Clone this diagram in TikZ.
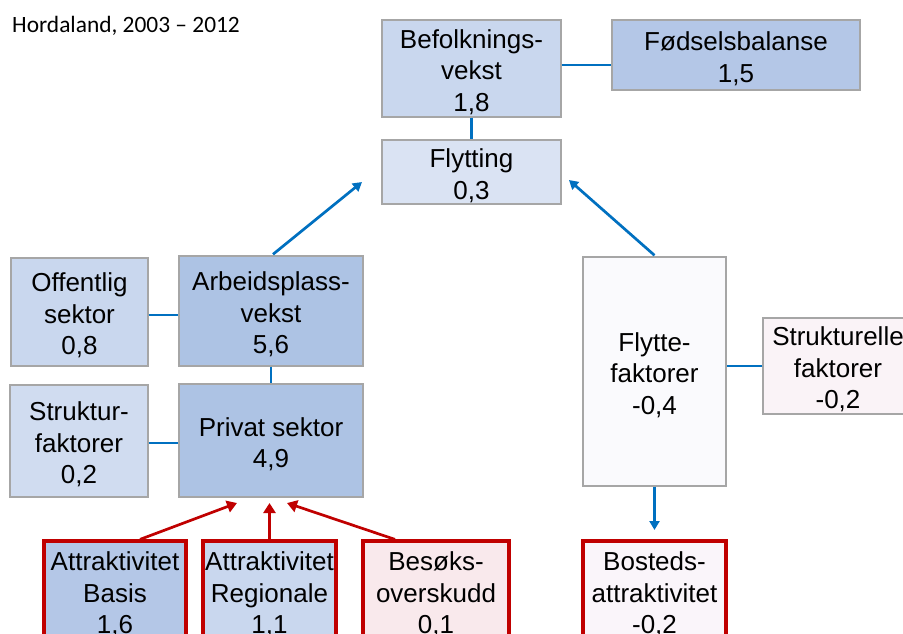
\documentclass[tikz,border=0pt]{standalone}
\usepackage{fontspec}
\setmainfont{Liberation Sans}
\newfontfamily\titlefont{Carlito}
\usetikzlibrary{arrows.meta}
\definecolor{lnblue}{HTML}{0070C0}
\definecolor{lnred}{HTML}{C00000}
\definecolor{bordergray}{HTML}{A6A6A6}
\definecolor{fillA}{HTML}{C9D7EE}
\definecolor{fillB}{HTML}{B4C7E7}
\definecolor{fillC}{HTML}{DAE3F3}
\definecolor{fillD}{HTML}{ADC3E4}
\definecolor{fillE}{HTML}{D0DCF0}
\definecolor{fillF}{HTML}{FAFAFD}
\definecolor{fillG}{HTML}{FAF3F7}
\definecolor{fillH}{HTML}{F9E9EC}
\definecolor{fillI}{HTML}{FAF5FA}
\newcommand\myLift{\rule{0pt}{26pt}}
\tikzset{
  box/.style={draw=bordergray, line width=1.4pt, inner sep=0pt, align=center,
    font=\fontsize{26}{31.5}\selectfont},
  redbox/.style={box, draw=lnred, line width=3.2pt},
  bluelink/.style={draw=lnblue, line width=2.7pt},
  bluearrow/.style={bluelink, -{Triangle[length=9pt,width=10pt]}},
  redarrow/.style={draw=lnred, line width=2.7pt, -{Triangle[length=10pt,width=12pt]}},
}
\begin{document}
\begin{tikzpicture}[x=1pt,y=-1pt]
\useasboundingbox (0,0) rectangle (903,633);
\clip (0,0) rectangle (903,633);
\fill[white] (0,0) rectangle (903,633);

\node[anchor=base west, font=\titlefont\fontsize{23.4}{28}\selectfont, inner sep=0pt] (title) at (12,32) {Hordaland, 2003 – 2012};

\node[box, fill=fillA, minimum width=179, minimum height=97] (bef) at (471.5,68.5) {\myLift Befolknings-\\vekst\\1,8};
\node[box, fill=fillB, minimum width=248, minimum height=70] (fod) at (736,55) {\myLift Fødselsbalanse\\1,5};
\node[box, fill=fillC, minimum width=179, minimum height=64] (fly) at (471.5,172) {\myLift Flytting\\0,3};
\node[box, fill=fillA, minimum width=137, minimum height=108] (off) at (79.5,312) {\myLift Offentlig\\sektor\\0,8};
\node[box, fill=fillD, minimum width=184, minimum height=110] (arb) at (271,311) {\myLift Arbeidsplass-\\vekst\\5,6};
\node[box, fill=fillE, minimum width=138, minimum height=112] (str) at (79,441) {\myLift Struktur-\\faktorer\\0,2};
\node[box, fill=fillD, minimum width=184, minimum height=113] (pri) at (271,440.5) {\myLift Privat sektor\\4,9};
\node[box, fill=fillF, minimum width=143, minimum height=229] (flf) at (654.5,371.5) {\myLift Flytte-\\faktorer\\-0,4};
\node[box, fill=fillG, minimum width=150, minimum height=96] (sel) at (838,366) {\myLift Strukturelle\\faktorer\\-0,2};
\node[redbox, fill=fillB, minimum width=142, minimum height=100] (bas) at (115,591) {\myLift Attraktivitet\\Basis\\1,6};
\node[redbox, fill=fillA, minimum width=133, minimum height=100] (reg) at (269.5,591) {\myLift Attraktivitet\\Regionale\\1,1};
\node[redbox, fill=fillH, minimum width=146, minimum height=100] (bes) at (436,591) {\myLift Besøks-\\overskudd\\0,1};
\node[redbox, fill=fillI, minimum width=143, minimum height=100] (bos) at (654.5,591) {\myLift Bosteds-\\attraktivitet\\-0,2};

\coordinate (tipL) at (362,182);
\coordinate (tipR) at (569,180);
\coordinate (tipD) at (654.5,530);
\coordinate (rA) at (237,503);
\coordinate (rB) at (269.5,503);
\coordinate (rC) at (287,503);

\draw[bluelink] ([yshift=3.5pt]bef.east) -- ([yshift=-10pt]fod.west);
\draw[bluelink] (bef.south) -- (fly.north);
\draw[bluelink] ([yshift=-3pt]off.east) -- ([yshift=-3pt]off.east -| arb.west);
\draw[bluelink] ([yshift=-2pt]str.east) -- ([yshift=-2pt]str.east -| pri.west);
\draw[bluelink] (arb.south) -- (pri.north);
\draw[bluelink] (sel.west) -- (sel.west -| flf.east);
\draw[bluearrow] ([xshift=2pt,yshift=1pt]arb.north) -- (tipL);
\draw[bluearrow] ([yshift=1pt]flf.north) -- (tipR);
\draw[bluearrow] (flf.south) -- (tipD);
\draw[redarrow] ([xshift=25pt]bas.north) -- (rA);
\draw[redarrow] (reg.north) -- (rB);
\draw[redarrow] ([xshift=-41pt]bes.north) -- (rC);
\end{tikzpicture}
\end{document}
